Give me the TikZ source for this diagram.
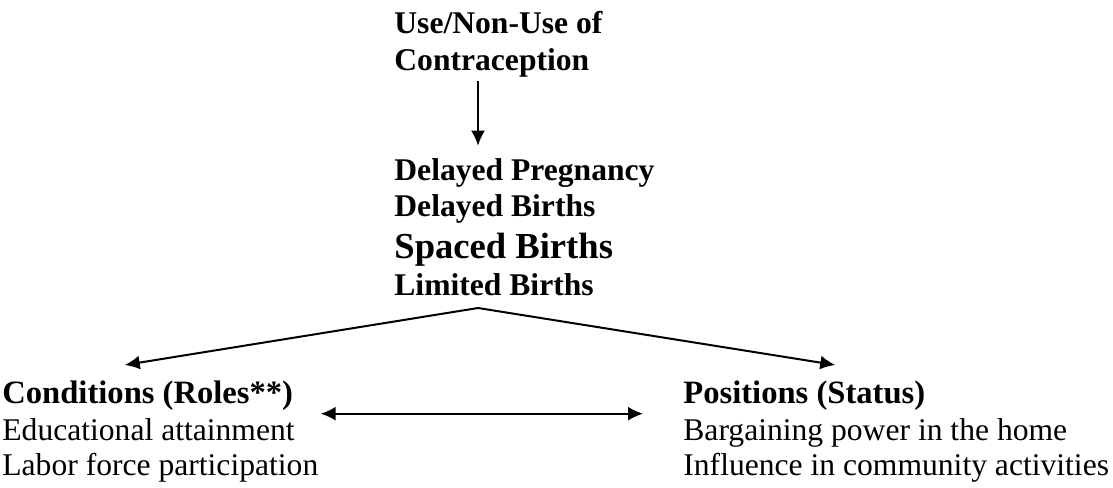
\documentclass[tikz,border=0pt]{standalone}
\usepackage{fontspec}
\setmainfont{Liberation Serif}
\usepackage{tikz}
\usetikzlibrary{arrows.meta}
\tikzstyle{arrow} = [-{Latex[length=7.5pt,width=7pt]}, line width=1pt]
\tikzstyle{dblarrow} = [{Latex[length=7.5pt,width=7pt]}-{Latex[length=7.5pt,width=7pt]}, line width=1pt]
\tikzstyle{head} = [font=\bfseries\fontsize{15.8}{18.5}\selectfont]
\tikzstyle{item} = [font=\fontsize{15.8}{17.5}\selectfont, align=left]

\begin{document}
\begin{tikzpicture}[x=0.5pt, y=-0.5pt, every node/.style={anchor=base west, inner sep=0pt}]
		\useasboundingbox (0,0) rectangle (1113,487);
		
		% multi-line nodes sit on their last baseline
		\node (use) [head, align=left] at (394,70) {Use/Non-Use of\\Contraception};
		\coordinate (apex) at (478,308);
		
		\node (preg) [head] at (394,180) {Delayed Pregnancy};
		\node (delb) [head] at (394,216) {Delayed Births};
		\node (spac) [font=\bfseries\fontsize{18.3}{20}\selectfont] at (394,258) {Spaced Births};
		\node (limb) [head] at (394,295) {Limited Births};
		
		\draw [arrow, shorten <=2pt, shorten >=6pt] (use.south -| apex) -- (preg.north -| apex);
		
		\node (cond) [head, font=\bfseries\fontsize{16.3}{18}\selectfont] at (2,403) {Conditions (Roles**)};
		\node (condlist) [item] at (2,475) {Educational attainment\\Labor force participation};
		\node (pos) [head, font=\bfseries\fontsize{16.3}{18}\selectfont] at (683,403) {Positions (Status)};
		\node (poslist) [item] at (683,475) {Bargaining power in the home\\Influence in community activities};
		
		\draw [arrow] (apex) -- ([xshift=-11.5pt, yshift=7.5pt]cond.north);
		\draw [arrow] (apex) -- ([xshift=15.5pt, yshift=7.5pt]pos.north);
		\draw [dblarrow] ([xshift=1pt, yshift=2pt]condlist.north east) -- ([xshift=-20pt, yshift=2pt]poslist.north west);
	\end{tikzpicture}
\end{document}
